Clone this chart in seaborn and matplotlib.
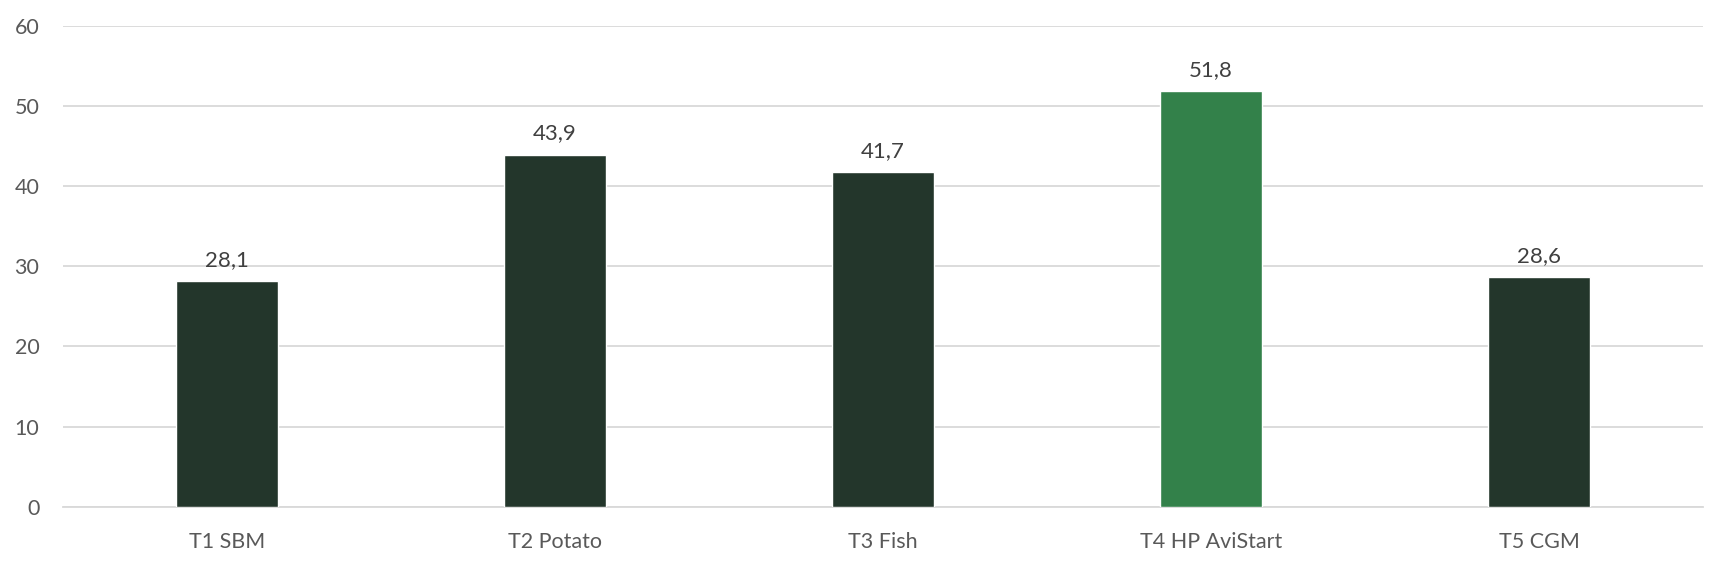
import matplotlib
matplotlib.use("Agg")
import matplotlib.pyplot as plt
import seaborn as sns
import pandas as pd

categories = ["T1 SBM", "T2 Potato", "T3 Fish", "T4 HP AviStart", "T5 CGM"]
values = [28.1, 43.9, 41.7, 51.8, 28.6]
yticks = [0, 10, 20, 30, 40, 50, 60]

dark = "#23362B"
green = "#33814A"
colors = [dark, dark, dark, green, dark]

sns.set_theme(style="white")
plt.rcParams["font.family"] = ["Lato", "DejaVu Sans"]

df = pd.DataFrame({"cat": categories, "val": values})

W, H = 1726, 567
left, right, top, bottom = 63, 1703, 25.7, 506.7
fig = plt.figure(figsize=(W / 100, H / 100), dpi=100)
ax = fig.add_axes([left / W, 1 - bottom / H, (right - left) / W, (bottom - top) / H])

sns.barplot(data=df, x="cat", y="val", hue="cat", palette=colors, legend=False,
            width=0.314, ax=ax, saturation=1, zorder=3)

ax.set_ylim(0, 60)
ax.set_xlim(-0.5, len(categories) - 0.5)
ax.set_yticks(yticks)
ax.set_yticklabels([str(t) for t in yticks])
ax.yaxis.grid(True, color="#D9D9D9", linewidth=1.3, zorder=0)
ax.set_axisbelow(True)
for s in ["top", "right", "left"]:
    ax.spines[s].set_visible(False)
ax.spines["bottom"].set_color("#D9D9D9")
ax.spines["bottom"].set_linewidth(1.3)
ax.set_xlabel("")
ax.set_ylabel("")
ax.tick_params(axis="y", length=0, pad=17, labelsize=15.5, labelcolor="#595959")
ax.tick_params(axis="x", length=0, pad=18, labelsize=15.5, labelcolor="#595959")

for i, v in enumerate(values):
    ax.annotate(f"{v:.1f}".replace(".", ","), (i, v), xytext=(0, 15.5),
                textcoords="offset pixels", ha="center", va="baseline",
                fontsize=16, color="#404040")

fig.savefig("out.png", dpi=100)
